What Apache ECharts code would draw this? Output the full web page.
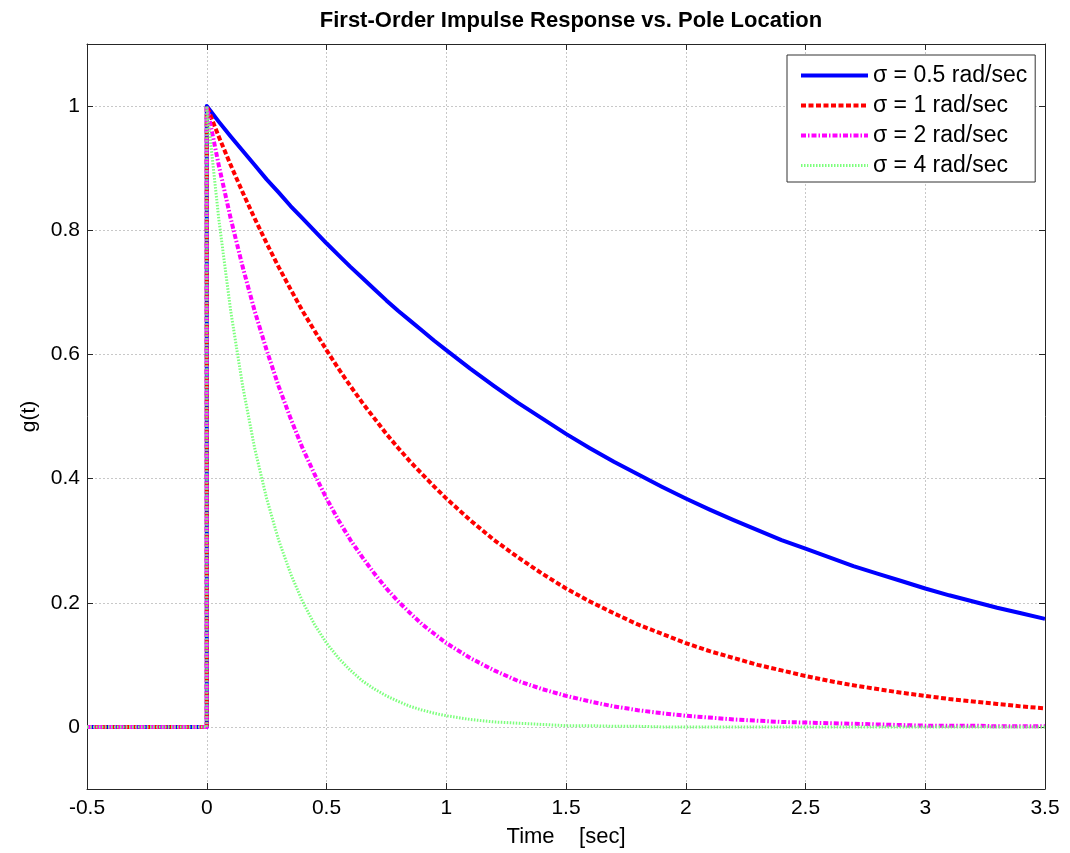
<!DOCTYPE html>
<html>
<head>
<meta charset="utf-8">
<script src="https://cdn.jsdelivr.net/npm/echarts@6/dist/echarts.min.js"></script>
<style>
html,body{margin:0;padding:0;background:#fff;}
#chart{width:1070px;height:853px;}
</style>
</head>
<body>
<div id="chart"></div>
<script>
// ---- data ----
const TITLE = 'First-Order Impulse Response vs. Pole Location';
const X_NAME = 'Time    [sec]';
const Y_NAME = 'g(t)';
const SERIES_NAMES = ['σ = 0.5 rad/sec', 'σ = 1 rad/sec', 'σ = 2 rad/sec', 'σ = 4 rad/sec'];
const X_TICKS = [-0.5, 0, 0.5, 1, 1.5, 2, 2.5, 3, 3.5];
const Y_TICKS = [0, 0.2, 0.4, 0.6, 0.8, 1];

// before the impulse (t < 0) every response is zero
const PRE_T = [-0.5, 0];
const PRE_G = [0, 0];

// samples after t = 0
const T = [0, 0.05, 0.1, 0.15, 0.2, 0.25, 0.3, 0.35, 0.4, 0.45, 0.5, 0.55, 0.6, 0.65, 0.7, 0.75, 0.8, 0.85, 0.9, 0.95, 1.0,
  1.1, 1.2, 1.3, 1.4, 1.5, 1.6, 1.7, 1.8, 1.9, 2.0, 2.1, 2.2, 2.3, 2.4, 2.5, 2.6, 2.7, 2.8, 2.9, 3.0, 3.1, 3.2, 3.3, 3.4, 3.5];
const G_05 = [1, 0.975, 0.951, 0.928, 0.905, 0.882, 0.861, 0.839, 0.819, 0.799, 0.779, 0.760, 0.741, 0.723, 0.705, 0.687, 0.670, 0.654, 0.638, 0.622, 0.607,
  0.577, 0.549, 0.522, 0.497, 0.472, 0.449, 0.427, 0.407, 0.387, 0.368, 0.350, 0.333, 0.317, 0.301, 0.287, 0.273, 0.259, 0.247, 0.235, 0.223, 0.212, 0.202, 0.192, 0.183, 0.174];
const G_1 = [1, 0.951, 0.905, 0.861, 0.819, 0.779, 0.741, 0.705, 0.670, 0.638, 0.607, 0.577, 0.549, 0.522, 0.497, 0.472, 0.449, 0.427, 0.407, 0.387, 0.368,
  0.333, 0.301, 0.273, 0.247, 0.223, 0.202, 0.183, 0.165, 0.150, 0.135, 0.122, 0.111, 0.100, 0.091, 0.082, 0.074, 0.067, 0.061, 0.055, 0.050, 0.045, 0.041, 0.037, 0.033, 0.030];
const G_2 = [1, 0.905, 0.819, 0.741, 0.670, 0.607, 0.549, 0.497, 0.449, 0.407, 0.368, 0.333, 0.301, 0.273, 0.247, 0.223, 0.202, 0.183, 0.165, 0.150, 0.135,
  0.111, 0.091, 0.074, 0.061, 0.050, 0.041, 0.033, 0.027, 0.022, 0.018, 0.015, 0.012, 0.010, 0.008, 0.007, 0.006, 0.005, 0.004, 0.003, 0.002, 0.002, 0.002, 0.001, 0.001, 0.001];
const G_4 = [1, 0.819, 0.670, 0.549, 0.449, 0.368, 0.301, 0.247, 0.202, 0.165, 0.135, 0.111, 0.091, 0.074, 0.061, 0.050, 0.041, 0.033, 0.027, 0.022, 0.018,
  0.012, 0.008, 0.006, 0.004, 0.002, 0.002, 0.001, 0.001, 0, 0, 0, 0, 0, 0, 0, 0, 0, 0, 0, 0, 0, 0, 0, 0, 0];

// ---- build ----
function pairs(vals) {
  const out = PRE_T.map((t, i) => [t, PRE_G[i]]);
  T.forEach((t, i) => out.push([t, vals[i]]));
  return out;
}
const FONT = 'Liberation Sans, Arial, sans-serif';
const styles = [
  { color: '#0000ff', width: 4, type: 'solid' },
  { color: '#ff0000', width: 4, type: [5, 2.5] },
  { color: '#ff00ff', width: 4, type: [5, 2, 1.5, 2] },
  { color: '#7dff7d', width: 3, type: [1.5, 1.5] }
];
const values = [G_05, G_1, G_2, G_4];

const axisLine = { show: true, onZero: false, lineStyle: { color: '#262626', width: 1 } };
const splitLine = { show: true, lineStyle: { color: '#c8c8c8', width: 1, type: [2, 2] } };

const option = {
  animation: false,
  backgroundColor: '#fff',
  title: {
    text: TITLE, left: 566, top: 5, textAlign: 'center',
    textStyle: { fontFamily: FONT, fontSize: 22, fontWeight: 'bold', color: '#000' }
  },
  legend: {
    orient: 'vertical', left: 787, top: 55,
    backgroundColor: '#fff', borderColor: '#333', borderWidth: 1,
    padding: [9, 8, 5, 12], itemGap: 7, itemWidth: 67, itemHeight: 16,
    itemStyle: { opacity: 0, color: 'rgba(0,0,0,0)', borderWidth: 0 },
    lineStyle: { width: 'inherit' },
    textStyle: { fontFamily: FONT, fontSize: 23, color: '#000' },
    data: SERIES_NAMES
  },
  grid: { left: 87, right: 25, top: 44, bottom: 58, containLabel: false },
  xAxis: [{
    type: 'value', min: -0.5, max: 3.5, interval: 0.5, position: 'bottom',
    name: X_NAME, nameLocation: 'middle', nameGap: 37,
    nameTextStyle: { fontFamily: FONT, fontSize: 22, color: '#000' },
    axisLine, splitLine,
    axisTick: { show: true, inside: true, length: 6, lineStyle: { color: '#262626' } },
    axisLabel: { fontFamily: FONT, fontSize: 21, color: '#000', margin: 9, formatter: v => String(v),
      customValues: X_TICKS }
  }, {
    type: 'value', min: -0.5, max: 3.5, interval: 0.5, position: 'top',
    axisLine, splitLine: { show: false },
    axisTick: { show: true, inside: true, length: 6, lineStyle: { color: '#262626' } },
    axisLabel: { show: false }
  }],
  yAxis: [{
    type: 'value', min: -0.1, max: 1.1, interval: 0.1, position: 'left',
    name: Y_NAME, nameLocation: 'middle', nameGap: 46,
    nameTextStyle: { fontFamily: FONT, fontSize: 21, color: '#000' },
    axisLine, splitLine,
    axisTick: { show: true, inside: true, length: 6, lineStyle: { color: '#262626' }, customValues: Y_TICKS },
    axisLabel: { fontFamily: FONT, fontSize: 21, color: '#000', margin: 7, formatter: v => String(v),
      customValues: Y_TICKS }
  }, {
    type: 'value', min: -0.1, max: 1.1, interval: 0.1, position: 'right',
    axisLine, splitLine: { show: false },
    axisTick: { show: true, inside: true, length: 6, lineStyle: { color: '#262626' }, customValues: Y_TICKS },
    axisLabel: { show: false }
  }],
  series: SERIES_NAMES.map((name, i) => ({
    name, type: 'line', xAxisIndex: 0, yAxisIndex: 0,
    data: pairs(values[i]),
    showSymbol: false, symbol: 'none', smooth: false,
    color: styles[i].color,
    lineStyle: { color: styles[i].color, width: styles[i].width, type: styles[i].type, cap: 'butt', join: 'round' },
    emphasis: { disabled: true }
  }))
};

const chart = echarts.init(document.getElementById('chart'), null, { renderer: 'canvas' });
chart.setOption(option);
</script>
</body>
</html>
